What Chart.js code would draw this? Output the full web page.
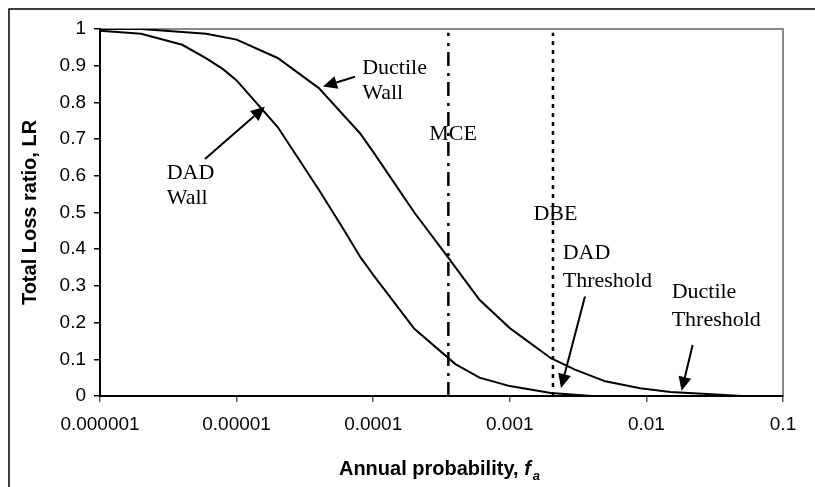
<!DOCTYPE html>
<html>
<head>
<meta charset="utf-8">
<script src="https://cdn.jsdelivr.net/npm/chart.js@4"></script>
<style>
  html, body { margin: 0; padding: 0; background: #fff; }
  #lossChart { display: block; }
</style>
</head>
<body>
<canvas id="lossChart" width="815" height="487"></canvas>
<script>
// annual probability values and loss ratios
const dadX = [1e-6, 2e-6, 4e-6, 6e-6, 8e-6, 1e-5, 2e-5, 4e-5, 6e-5, 8e-5, 1e-4, 2e-4, 4e-4, 6e-4, 1e-3, 2e-3, 4e-3, 1e-2, 0.1];
const dadY = [0.995, 0.987, 0.957, 0.92, 0.89, 0.86, 0.733, 0.562, 0.457, 0.38, 0.33, 0.183, 0.087, 0.05, 0.027, 0.008, 0, 0, 0];

const ductX = [1e-6, 2e-6, 6e-6, 1e-5, 2e-5, 4e-5, 8e-5, 1e-4, 2e-4, 3.5e-4, 6e-4, 1e-3, 2e-3, 3e-3, 5e-3, 9e-3, 1.5e-2, 3e-2, 5e-2, 0.1];
const ductY = [1.0, 1.0, 0.987, 0.971, 0.921, 0.839, 0.716, 0.665, 0.50, 0.38, 0.262, 0.185, 0.103, 0.072, 0.04, 0.021, 0.011, 0.005, 0, 0];

// hazard levels
const mceX = 3.55e-4;
const dbeX = 2.07e-3;

const xTicks = [1e-6, 1e-5, 1e-4, 1e-3, 1e-2, 1e-1];
const xTickLabels = ['0.000001', '0.00001', '0.0001', '0.001', '0.01', '0.1'];
const yTicks = [0, 0.1, 0.2, 0.3, 0.4, 0.5, 0.6, 0.7, 0.8, 0.9, 1];
const yTickLabels = ['0', '0.1', '0.2', '0.3', '0.4', '0.5', '0.6', '0.7', '0.8', '0.9', '1'];

// callouts in data units: text lines at (x, y), arrows from -> to
const notes = [
    { lines: ['Ductile', 'Wall'], x: 8.3e-5, y: [0.894, 0.826] },
    { lines: ['DAD', 'Wall'], x: 3.08e-6, y: [0.607, 0.540] },
    { lines: ['MCE'], x: 2.57e-4, y: [0.712] },
    { lines: ['DBE'], x: 1.49e-3, y: [0.496] },
    { lines: ['DAD', 'Threshold'], x: 2.44e-3, y: [0.388, 0.314] },
    { lines: ['Ductile', 'Threshold'], x: 0.0153, y: [0.282, 0.207] }
];
const arrows = [
    { from: [7.36e-5, 0.870], to: [4.29e-5, 0.843] },
    { from: [5.87e-6, 0.646], to: [1.61e-5, 0.788] },
    { from: [3.55e-3, 0.271], to: [2.37e-3, 0.022] },
    { from: [0.0218, 0.139], to: [0.0181, 0.014] }
];

const toPoints = (xs, ys) => xs.map((x, i) => ({ x: x, y: ys[i] }));

Chart.defaults.font.family = '"Liberation Sans", Arial, sans-serif';
Chart.defaults.color = '#000';

const framePlugin = {
    id: 'frame',
    beforeDraw(chart) {
        const ctx = chart.ctx;
        ctx.save();
        ctx.fillStyle = '#fff';
        ctx.fillRect(0, 0, chart.width, chart.height);
        ctx.strokeStyle = '#000';
        ctx.lineWidth = 1.5;
        ctx.beginPath();
        ctx.moveTo(9, chart.height);
        ctx.lineTo(9, 9);
        ctx.lineTo(chart.width, 9);
        ctx.stroke();
        // grey top and right edge of plot area
        const a = chart.chartArea;
        ctx.strokeStyle = '#8a8a8a';
        ctx.lineWidth = 2;
        ctx.beginPath();
        ctx.moveTo(a.left, a.top);
        ctx.lineTo(a.right, a.top);
        ctx.lineTo(a.right, a.bottom);
        ctx.stroke();
        ctx.restore();
    }
};

const notesPlugin = {
    id: 'notes',
    afterDraw(chart) {
        const ctx = chart.ctx;
        const xs = chart.scales.x;
        const ys = chart.scales.y;
        ctx.save();
        ctx.fillStyle = '#000';
        ctx.font = '22px "Liberation Serif", "Times New Roman", serif';
        ctx.textAlign = 'left';
        ctx.textBaseline = 'middle';
        notes.forEach(n => {
            n.lines.forEach((t, i) => {
                ctx.fillText(t, xs.getPixelForValue(n.x), ys.getPixelForValue(n.y[i]));
            });
        });

        ctx.strokeStyle = '#000';
        ctx.lineWidth = 2;
        arrows.forEach(a => {
            const x1 = xs.getPixelForValue(a.from[0]), y1 = ys.getPixelForValue(a.from[1]);
            const x2 = xs.getPixelForValue(a.to[0]), y2 = ys.getPixelForValue(a.to[1]);
            const ang = Math.atan2(y2 - y1, x2 - x1);
            const len = 14, half = 6.5;
            const bx = x2 - len * Math.cos(ang), by = y2 - len * Math.sin(ang);
            ctx.beginPath();
            ctx.moveTo(x1, y1);
            ctx.lineTo(bx, by);
            ctx.stroke();
            ctx.beginPath();
            ctx.moveTo(x2, y2);
            ctx.lineTo(bx + half * Math.sin(ang), by - half * Math.cos(ang));
            ctx.lineTo(bx - half * Math.sin(ang), by + half * Math.cos(ang));
            ctx.closePath();
            ctx.fill();
        });

        // x axis title with italic subscripted f_a
        const a = chart.chartArea;
        const cx = (a.left + a.right) / 2 - 2;
        const cy = chart.height - 19;
        const main = 'Annual probability, ';
        const fontMain = 'bold 20px "Liberation Sans", Arial, sans-serif';
        const fontIt = 'italic bold 20px "Liberation Sans", Arial, sans-serif';
        const fontSub = 'italic bold 13px "Liberation Sans", Arial, sans-serif';
        ctx.font = fontMain;
        const w1 = ctx.measureText(main).width;
        ctx.font = fontIt;
        const w2 = ctx.measureText('f').width;
        ctx.font = fontSub;
        const w3 = ctx.measureText('a').width;
        let x = cx - (w1 + w2 + w3 + 2) / 2;
        ctx.textBaseline = 'alphabetic';
        const base = cy + 7;
        ctx.font = fontMain;
        ctx.fillText(main, x, base);
        x += w1;
        ctx.font = fontIt;
        ctx.fillText('f', x, base);
        x += w2 + 2;
        ctx.font = fontSub;
        ctx.fillText('a', x, base + 5);
        ctx.restore();
    }
};

new Chart(document.getElementById('lossChart'), {
    type: 'scatter',
    data: {
        datasets: [{
            label: 'DAD Wall',
            data: toPoints(dadX, dadY),
            borderColor: '#000',
            borderWidth: 2,
            showLine: true,
            pointRadius: 0,
            tension: 0
        }, {
            label: 'Ductile Wall',
            data: toPoints(ductX, ductY),
            borderColor: '#000',
            borderWidth: 2,
            showLine: true,
            pointRadius: 0,
            tension: 0
        }, {
            label: 'MCE',
            data: [{ x: mceX, y: 0 }, { x: mceX, y: 0.99 }],
            borderColor: '#000',
            borderWidth: 2.5,
            borderDash: [14, 6, 3, 7],
            showLine: true,
            pointRadius: 0
        }, {
            label: 'DBE',
            data: [{ x: dbeX, y: 0 }, { x: dbeX, y: 0.99 }],
            borderColor: '#000',
            borderWidth: 2.5,
            borderDash: [4, 5],
            showLine: true,
            pointRadius: 0
        }]
    },
    options: {
        responsive: false,
        animation: false,
        layout: { padding: { top: 29, right: 32, left: 10, bottom: 0 } },
        plugins: {
            legend: { display: false },
            tooltip: { enabled: false }
        },
        scales: {
            x: {
                type: 'logarithmic',
                min: 1e-6,
                max: 0.1,
                afterBuildTicks: axis => { axis.ticks = xTicks.map(v => ({ value: v })); },
                afterFit: axis => { axis.height = 91; },
                ticks: {
                    font: { size: 19 },
                    padding: 11,
                    maxRotation: 0,
                    autoSkip: false,
                    callback: (v) => {
                        const i = xTicks.findIndex(t => Math.abs(t - v) / t < 1e-6);
                        return i >= 0 ? xTickLabels[i] : '';
                    }
                },
                grid: { drawOnChartArea: false, drawTicks: true, tickLength: 6, color: '#555', lineWidth: 1.5 },
                border: { display: true, color: '#000', width: 2 }
            },
            y: {
                min: 0,
                max: 1,
                afterBuildTicks: axis => { axis.ticks = yTicks.map(v => ({ value: v })); },
                afterFit: axis => { axis.width = 90; },
                ticks: {
                    font: { size: 19 },
                    padding: 8,
                    callback: (v) => {
                        const i = yTicks.findIndex(t => Math.abs(t - v) < 1e-9);
                        return i >= 0 ? yTickLabels[i] : '';
                    }
                },
                title: {
                    display: true,
                    text: 'Total Loss ratio, LR',
                    font: { size: 20, weight: 'bold' },
                    padding: { top: 8, bottom: 0 }
                },
                grid: { drawOnChartArea: false, drawTicks: true, tickLength: 6, color: '#000', lineWidth: 1.5 },
                border: { display: true, color: '#000', width: 2 }
            }
        }
    },
    plugins: [framePlugin, notesPlugin]
});
</script>
</body>
</html>
